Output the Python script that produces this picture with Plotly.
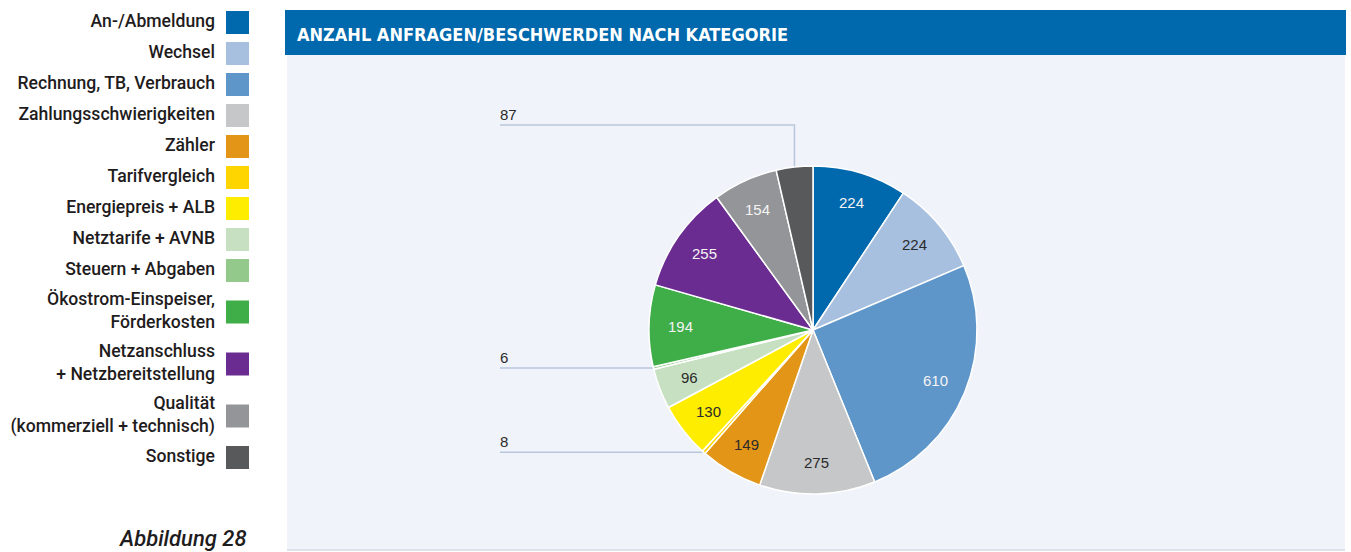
import math
import plotly.graph_objects as go

# ---------------- data ----------------
categories = [
    "An-/Abmeldung", "Wechsel", "Rechnung, TB, Verbrauch", "Zahlungsschwierigkeiten",
    "Zähler", "Tarifvergleich", "Energiepreis + ALB", "Netztarife + AVNB",
    "Steuern + Abgaben", "Ökostrom-Einspeiser,<br>Förderkosten",
    "Netzanschluss<br>+ Netzbereitstellung", "Qualität<br>(kommerziell + technisch)", "Sonstige",
]
values = [224, 224, 610, 275, 149, 8, 130, 96, 6, 194, 255, 154, 87]
colors = ["#0068ac", "#a7c0e0", "#5f96ca", "#c6c7c8", "#e39517", "#ffd500", "#ffed00",
          "#c8e0c2", "#93c98a", "#3fae49", "#6a2c91", "#949598", "#58595b"]
text_colors = ["#f4f4f4", "#2b2b2b", "#f4f4f4", "#2b2b2b", "#2b2b2b", "#2b2b2b", "#2b2b2b",
               "#2b2b2b", "#2b2b2b", "#f4f4f4", "#f4f4f4", "#f4f4f4", "#f4f4f4"]
outside_labeled = {"Tarifvergleich", "Steuern + Abgaben", "Sonstige"}
title = "ANZAHL ANFRAGEN/BESCHWERDEN NACH KATEGORIE"
figure_caption = "Abbildung 28"

# ---------------- layout constants (pixels) ----------------
W, H = 1351, 552
CX, CY, R = 813, 330, 164
LABEL_R = 0.81
LABEL_X = 500
TOP_LINE_Y = 125
FONT = "Liberation Sans"
LEG_FONT = "Roboto"

fig = go.Figure()

shapes = [
    dict(type="rect", xref="x", yref="y", x0=287, x1=1345, y0=55, y1=550,
         fillcolor="#f0f3f9", line=dict(width=0), layer="below"),
    dict(type="line", xref="x", yref="y", x0=287, x1=1345, y0=550, y1=550,
         line=dict(color="#d3dbe6", width=1.5), layer="below"),
    dict(type="rect", xref="x", yref="y", x0=285, x1=1346, y0=10, y1=55,
         fillcolor="#0068ac", line=dict(width=0), layer="below"),
]
annotations = []

plain = [c.replace("<br>", " ") for c in categories]

fig.add_trace(go.Pie(
    values=values, labels=plain, textinfo="none",
    sort=False, direction="clockwise", rotation=0,
    marker=dict(colors=colors, line=dict(color="white", width=1.5)),
    hoverinfo="label+value", showlegend=False,
    domain=dict(x=[(CX - R) / W, (CX + R) / W], y=[1 - (CY + R) / H, 1 - (CY - R) / H]),
))

# value labels (inside) and leader lines (small slices)
total = sum(values)
cum = 0
for p, v, tc in zip(plain, values, text_colors):
    mid = (cum + v / 2) / total * 2 * math.pi
    cum += v
    if p not in outside_labeled:
        annotations.append(dict(
            xref="x", yref="y", x=CX + LABEL_R * R * math.sin(mid), y=CY - LABEL_R * R * math.cos(mid),
            text=str(v), showarrow=False, xanchor="center", yanchor="middle",
            font=dict(family=FONT, size=15, color=tc)))
        continue
    ex, ey = CX + R * math.sin(mid), CY - R * math.cos(mid)
    if math.cos(mid) > 0.9:  # near top: go up then left
        xs, ys = [ex, ex, LABEL_X], [ey, TOP_LINE_Y, TOP_LINE_Y]
        ly = TOP_LINE_Y
    else:
        xs, ys = [ex, LABEL_X], [ey, ey]
        ly = ey
    fig.add_trace(go.Scatter(x=xs, y=ys, mode="lines", line=dict(color="#b9c7dc", width=1.5),
                             hoverinfo="skip", showlegend=False))
    annotations.append(dict(xref="x", yref="y", x=LABEL_X - 2, y=ly - 11, text=str(v),
                            showarrow=False, xanchor="left", yanchor="middle",
                            font=dict(family=FONT, size=15, color="#2b2b2b")))

# custom legend (text right-aligned, swatch on right)
ys = []
y = 22.5
prev_h = None
for c in categories:
    h = 31 + 21 * c.count("<br>")
    if prev_h is not None:
        y += (prev_h + h) / 2
    ys.append(y)
    prev_h = h
fig.add_trace(go.Scatter(x=[237.5] * len(categories), y=ys, mode="markers",
                         marker=dict(symbol="square", size=23, color=colors, line=dict(width=0)),
                         hoverinfo="skip", showlegend=False))
fig.add_trace(go.Scatter(x=[215] * len(categories), y=ys, mode="text", text=categories,
                         textposition="middle left",
                         textfont=dict(family=LEG_FONT, size=17.6, color="#1f1c1d", weight=500),
                         hoverinfo="skip", showlegend=False))

annotations += [
    dict(xref="x", yref="y", x=295, y=34, text=f"<b>{title}</b>", showarrow=False,
         xanchor="left", yanchor="middle",
         font=dict(family="DejaVu Sans Condensed, DejaVu Sans", size=18, color="white")),
    dict(xref="x", yref="y", x=249, y=538, text=f"<i>{figure_caption}</i>", showarrow=False,
         xanchor="right", yanchor="middle",
         font=dict(family=LEG_FONT, size=22, color="#1f1c1d", weight=500)),
]

fig.update_layout(
    width=W, height=H, margin=dict(l=0, r=0, t=0, b=0),
    paper_bgcolor="white", plot_bgcolor="rgba(0,0,0,0)",
    shapes=shapes, annotations=annotations,
    xaxis=dict(range=[0, W], visible=False, fixedrange=True),
    yaxis=dict(range=[H, 0], visible=False, fixedrange=True),
)

fig.write_html("out.html", config=dict(displayModeBar=False),
               post_script="document.body.style.margin='0';")
